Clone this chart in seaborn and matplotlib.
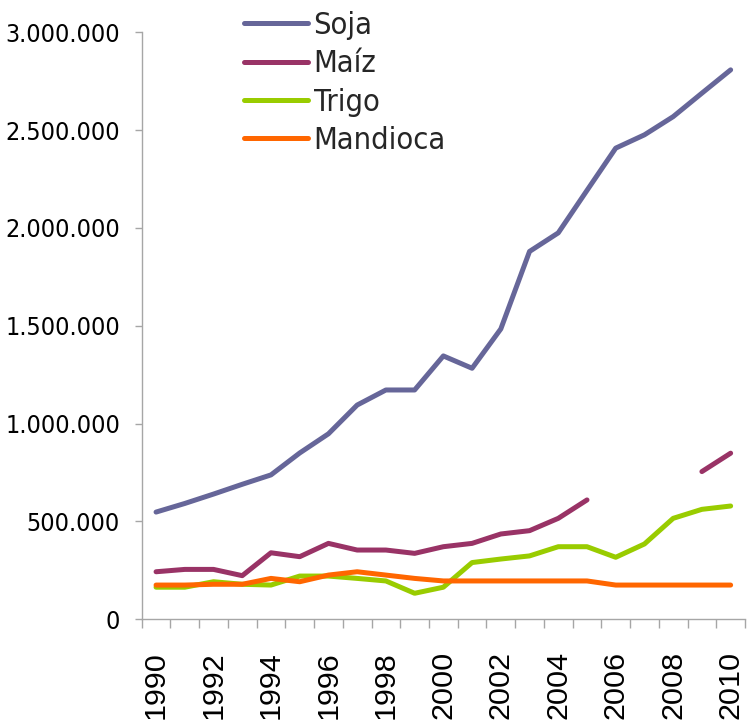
import os
import numpy as np
import pandas as pd
import matplotlib
matplotlib.use("Agg")
import matplotlib.pyplot as plt
import seaborn as sns
from matplotlib import font_manager as fm
from matplotlib.ticker import FixedLocator

years = list(range(1990, 2011))
soja = [548000, 592000, 640000, 690000, 738000, 850000, 948000, 1095000, 1172000, 1172000,
        1346000, 1283000, 1484000, 1880000, 1975000, 2192000, 2408000, 2476000, 2569000,
        2689000, 2808000]
maiz = [243000, 255000, 255000, 223000, 340000, 320000, 388000, 354000, 354000, 337000,
        371000, 388000, 436000, 453000, 516000, 610000, None, None, None, 755000, 849000]
trigo = [164000, 164000, 192000, 179000, 175000, 221000, 221000, 209000, 196000, 133000,
         164000, 290000, 308000, 324000, 371000, 371000, 317000, 385000, 516000, 562000,
         579000]
mandioca = [175000, 175000, 179000, 179000, 209000, 192000, 226000, 243000, 226000, 209000,
            196000, 196000, 196000, 196000, 196000, 196000, 175000, 175000, 175000, 175000,
            175000]
crops = ["Soja", "Maíz", "Trigo", "Mandioca"]
colors = ["#666699", "#993366", "#99CC00", "#FF6600"]
y_ticks = [0, 500000, 1000000, 1500000, 2000000, 2500000, 3000000]
y_labels = ["0", "500.000", "1.000.000", "1.500.000", "2.000.000", "2.500.000", "3.000.000"]
x_ticks = list(range(1990, 2011, 2))
x_labels = [str(y) for y in x_ticks]

rows = []
for crop, vals in zip(crops, [soja, maiz, trigo, mandioca]):
    seg = 0
    for y, v in zip(years, vals):
        if v is None:
            seg += 1
            continue
        rows.append({"Año": y, "Valor": v, "Cultivo": crop, "seg": seg})
df = pd.DataFrame(rows)

# ---- font selection -------------------------------------------------------
all_files = [f.fname for f in fm.fontManager.ttflist]


def by_file(prefixes):
    for p in prefixes:
        for f in all_files:
            if os.path.basename(f).lower().startswith(p.lower()):
                return f
    return None


def by_family(fams):
    for fam in fams:
        try:
            return fm.findfont(fm.FontProperties(family=fam), fallback_to_default=False)
        except Exception:
            pass
    return None


narrow_file = by_file(["LiberationSansNarrow-Regular", "LiberationSansNarrow.",
                       "DejaVuSansCondensed.", "RobotoCondensed-Regular",
                       "NotoSans-CondensedRegular", "NotoSans-Condensed.",
                       "OpenSans_Condensed-Regular", "OpenSans-CondensedRegular"])
if narrow_file is None:
    bad = ("bold", "italic", "oblique", "light", "semi", "medium", "black", "thin", "extra")
    for f in all_files:
        b = os.path.basename(f).lower()
        if ("condensed" in b or "narrow" in b) and not any(k in b for k in bad):
            narrow_file = f
            break
if narrow_file is None:
    narrow_file = by_family(["Roboto", "Noto Sans", "DejaVu Sans"])
arial_file = by_file(["LiberationSans-Regular"]) or by_family(["Liberation Sans", "Arimo", "DejaVu Sans"])

sns.set_style("white")
plt.rcParams["font.family"] = ["DejaVu Sans"]

W, H = 752, 723
fig = plt.figure(figsize=(W / 100, H / 100), dpi=100)
renderer = fig.canvas.get_renderer()


def fit_size(fname, text, target_px):
    fp = fm.FontProperties(fname=fname, size=20)
    t = fig.text(0, 0, text, fontproperties=fp)
    w = t.get_window_extent(renderer).width
    t.remove()
    return 20 * target_px / w


def fprop(fname, size):
    return fm.FontProperties(fname=fname, size=size)


fp_y = fprop(narrow_file, fit_size(narrow_file, "3.000.000", 114))
fp_leg = fprop(narrow_file, fit_size(narrow_file, "Mandioca", 132))
fp_x = fprop(arial_file, fit_size(arial_file, "1990", 68))

# ---- plot -----------------------------------------------------------------
ax = fig.add_axes([141.7 / W, 1 - 619.3 / H, (745 - 141.7) / W, (619.3 - 32.3) / H])

sns.lineplot(data=df, x="Año", y="Valor", hue="Cultivo", units="seg", estimator=None,
             hue_order=crops, palette=dict(zip(crops, colors)), linewidth=3.6,
             solid_capstyle="round", ax=ax, legend=True)

ax.set_xlim(1989.5, 2010.5)
ax.set_ylim(0, 3000000)
ax.set_xlabel("")
ax.set_ylabel("")

for s in ["top", "right"]:
    ax.spines[s].set_visible(False)
for s in ["left", "bottom"]:
    ax.spines[s].set_color("#A6A6A6")
    ax.spines[s].set_linewidth(1.0)

ypad, xpad = 8.5, 22.5
ax.set_yticks(y_ticks)
ax.set_yticklabels(y_labels, fontproperties=fp_y)
ax.tick_params(axis="y", which="major", length=5, width=1, color="#A6A6A6", pad=ypad,
               labelcolor="black", left=True)

ax.set_xticks(x_ticks)
ax.set_xticklabels(x_labels, rotation=90, fontproperties=fp_x)
ax.xaxis.set_minor_locator(FixedLocator(np.arange(1989.5, 2011, 1)))
ax.tick_params(axis="x", which="major", length=0, pad=xpad, bottom=True, labelcolor="black")
ax.tick_params(axis="x", which="minor", length=6.5, width=1, color="#A6A6A6", bottom=True)

# adjust label pads so label placement matches the reference
fig.canvas.draw()
ybb = ax.get_yticklabels()[-1].get_window_extent(renderer)
ypad += (ybb.x1 - 120) * 0.72
xbb = ax.get_xticklabels()[0].get_window_extent(renderer)
xpad += (651 - (H - xbb.y1)) * 0.72
ax.tick_params(axis="y", which="major", pad=ypad)
ax.tick_params(axis="x", which="major", pad=xpad)

old = ax.get_legend()
handles = list(old.legend_handles)
labels = [t.get_text() for t in old.get_texts()]
for h in handles:
    h.set_solid_capstyle("round")
    h.set_linewidth(3.6)

leg_fs_px = fp_leg.get_size_in_points() * 100 / 72
anchor = [243.0, H - 2.0]
spacing = 0.0


def make_legend(anchor, spacing):
    return ax.legend(handles, labels, loc="upper left",
                     bbox_to_anchor=(anchor[0] / W, anchor[1] / H),
                     bbox_transform=fig.transFigure, frameon=False, prop=fp_leg,
                     handlelength=64 / leg_fs_px, handletextpad=6 / leg_fs_px,
                     labelspacing=spacing, borderpad=0, borderaxespad=0)


def line_pos(leg):
    fig.canvas.draw()
    res = []
    for ln in leg.get_lines():
        pts = ln.get_transform().transform(ln.get_xydata())
        res.append((pts[:, 0].min(), pts[:, 1].mean()))
    return res


leg = make_legend(anchor, spacing)
pos = line_pos(leg)
d0 = (pos[0][1] - pos[-1][1]) / (len(pos) - 1)
spacing = (38.3 - d0) / leg_fs_px
leg = make_legend(anchor, spacing)
pos = line_pos(leg)
anchor = [anchor[0] + (243.5 - pos[0][0]), anchor[1] + ((H - 23.3) - pos[0][1])]
leg = make_legend(anchor, spacing)

fig.savefig("out.png", dpi=100)
